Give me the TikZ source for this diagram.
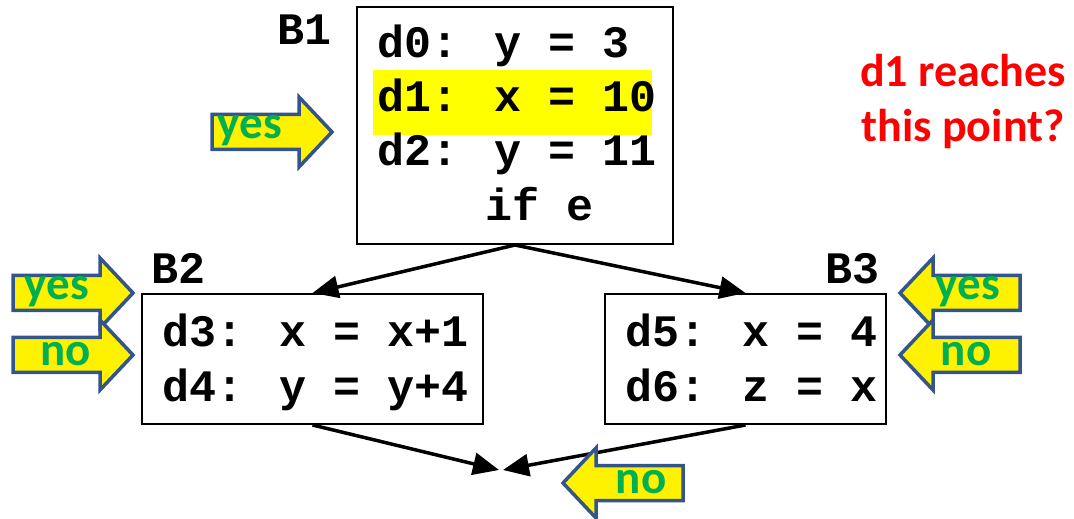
\documentclass[tikz,border=0pt]{standalone}
\usepackage{fontspec}
\setmainfont{Carlito}
\newfontfamily\monof{Liberation Mono}
\usetikzlibrary{arrows.meta}
\definecolor{blkborder}{RGB}{52,84,140}
\definecolor{yesgreen}{RGB}{0,176,80}
\definecolor{hiyel}{RGB}{255,255,0}
\definecolor{qred}{RGB}{255,0,0}
\tikzset{
  blkarrow/.style={draw=blkborder, fill=yellow, line width=3.5bp, line join=miter},
  rblk/.pic={\path[blkarrow] (0,0) -- (-33,-35) -- (-33,-17.5) -- (-120,-17.5) -- (-120,17.5) -- (-33,17.5) -- (-33,35) -- cycle;},
  ans/.style={text=yesgreen, font=\fontsize{47bp}{50bp}\selectfont\bfseries, inner sep=0pt},
  bbox/.style={draw, line width=2bp, rectangle, inner sep=0pt},
  code/.style={font=\monof\bfseries\fontsize{45bp}{54bp}\selectfont, anchor=base west, inner sep=0pt},
  flow/.style={line width=3.5bp, -{Triangle[length=26bp, width=22bp]}},
}
\begin{document}
\begin{tikzpicture}[x=1bp, y=-1bp]
\useasboundingbox (0,0) rectangle (1074,519);
% boxes
\node[bbox, minimum width=316bp, minimum height=237bp] (b1) at (515,125.5) {};
\node[bbox, minimum width=341bp, minimum height=130bp] (b2) at (312.5,359) {};
\node[bbox, minimum width=281bp, minimum height=130bp] (b3) at (745.5,359) {};
% highlight
\fill[hiyel] (373,70) rectangle (652,135);
% code text
\node[code] (l0) at (377,58) {d0: y = 3};
\node[code] (l1) at (377,112) {d1: x = 10};
\node[code] (l2) at (377,166) {d2: y = 11};
\node[code] (l3) at (377,221) {\ \ \ \ if e};
\node[code] (l4) at (162,347) {d3: x = x+1};
\node[code] (l5) at (162,401) {d4: y = y+4};
\node[code] (l6) at (625,347) {d5: x = 4};
\node[code] (l7) at (625,401) {d6: z = x};
% labels
\node[code] (lb1) at (277,45) {B1};
\node[code] (lb2) at (151,284) {B2};
\node[code] (lb3) at (825,284) {B3};
% red question
\node[text=qred, font=\fontsize{46bp}{55bp}\selectfont\bfseries, align=center, inner sep=0pt] (q) at (963,101) {d1 reaches\\this point?};
% flow arrows
\coordinate (m1) at (499,470);
\coordinate (m2) at (503,470);
\draw[flow] (b1.south) -- (b2.north);
\draw[flow] (b1.south) -- (b3.north);
\draw[flow] (b2.south) -- (m1);
\draw[flow] (b3.south) -- (m2);
% block arrows
\pic at (332,132) {rblk};
\node[ans] (a1) at (250,131) {yes};
\pic at (133,293) {rblk};
\node[ans] (a2) at (57,292) {yes};
\pic at (133,355) {rblk};
\node[ans] (a3) at (66,354) {no};
\pic[xscale=-1] at (900,293) {rblk};
\node[ans] (a4) at (968,292) {yes};
\pic[xscale=-1] at (900,355) {rblk};
\node[ans] (a5) at (966,354) {no};
\pic[xscale=-1] at (563,483) {rblk};
\node[ans] (a6) at (641,482) {no};
\end{tikzpicture}
\end{document}
